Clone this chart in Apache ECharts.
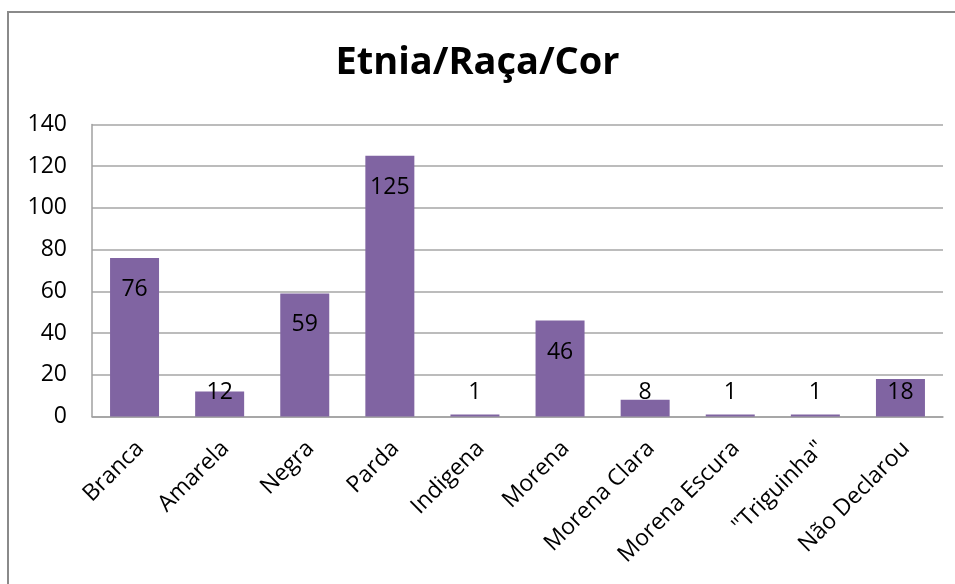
<!DOCTYPE html>
<html>
<head>
<meta charset="utf-8">
<script src="https://cdn.jsdelivr.net/npm/echarts@6/dist/echarts.min.js"></script>
<style>
  html, body { margin: 0; padding: 0; background: #fff; }
  #chart { width: 955px; height: 584px; }
</style>
</head>
<body>
<div id="chart"></div>
<script>
// Respondents by ethnicity / race / colour
const categories = ['Branca', 'Amarela', 'Negra', 'Parda', 'Indigena', 'Morena', 'Morena Clara', 'Morena Escura', '"Triguinha"', 'Não Declarou'];
const counts = [76, 12, 59, 125, 1, 46, 8, 1, 1, 18];
const yTicks = { min: 0, max: 140, step: 20 };

const FONT = '"Open Sans", "Noto Sans", sans-serif';
const BAR_COLOR = '#8064A2';

// Tall bars carry their value just inside the top edge; short ones
// keep it at a fixed height above the baseline.
function labelFor(v) {
  return v > 27
    ? { position: 'insideTop', distance: 20 }
    : { position: 'insideBottom', distance: 13 };
}

const chart = echarts.init(document.getElementById('chart'));
chart.setOption({
  backgroundColor: '#fff',
  animation: false,
  title: {
    text: 'Etnia/Raça/Cor',
    left: 'center',
    top: 39,
    textStyle: { fontFamily: FONT, fontWeight: 'bold', fontSize: 38, color: '#000' }
  },
  graphic: [{
    type: 'rect',
    shape: { x: 8, y: 12, width: 980, height: 620 },
    style: { fill: 'none', stroke: '#8a8a8a', lineWidth: 2 },
    silent: true
  }],
  grid: { left: 92, right: 12, top: 124.5, bottom: 167.5, containLabel: false },
  xAxis: {
    type: 'category',
    data: categories,
    axisLine: { show: true, lineStyle: { color: '#a0a0a0', width: 1.5 } },
    axisTick: { show: false },
    axisLabel: {
      interval: 0,
      rotate: 45,
      margin: 34,
      padding: [0, -8, 0, 0],
      fontFamily: FONT,
      fontSize: 23,
      color: '#000'
    }
  },
  yAxis: {
    type: 'value',
    min: yTicks.min,
    max: yTicks.max,
    interval: yTicks.step,
    axisLine: { show: true, lineStyle: { color: '#a0a0a0', width: 1.5 } },
    axisTick: { show: false },
    splitLine: { lineStyle: { color: '#a6a6a6', width: 1.5 } },
    axisLabel: { margin: 25, fontFamily: FONT, fontSize: 23, color: '#000' }
  },
  series: [{
    type: 'bar',
    barWidth: 49,
    itemStyle: { color: BAR_COLOR },
    label: { show: true, fontFamily: FONT, fontSize: 23, color: '#000' },
    data: counts.map(v => ({ value: v, label: labelFor(v) }))
  }]
});
</script>
</body>
</html>
